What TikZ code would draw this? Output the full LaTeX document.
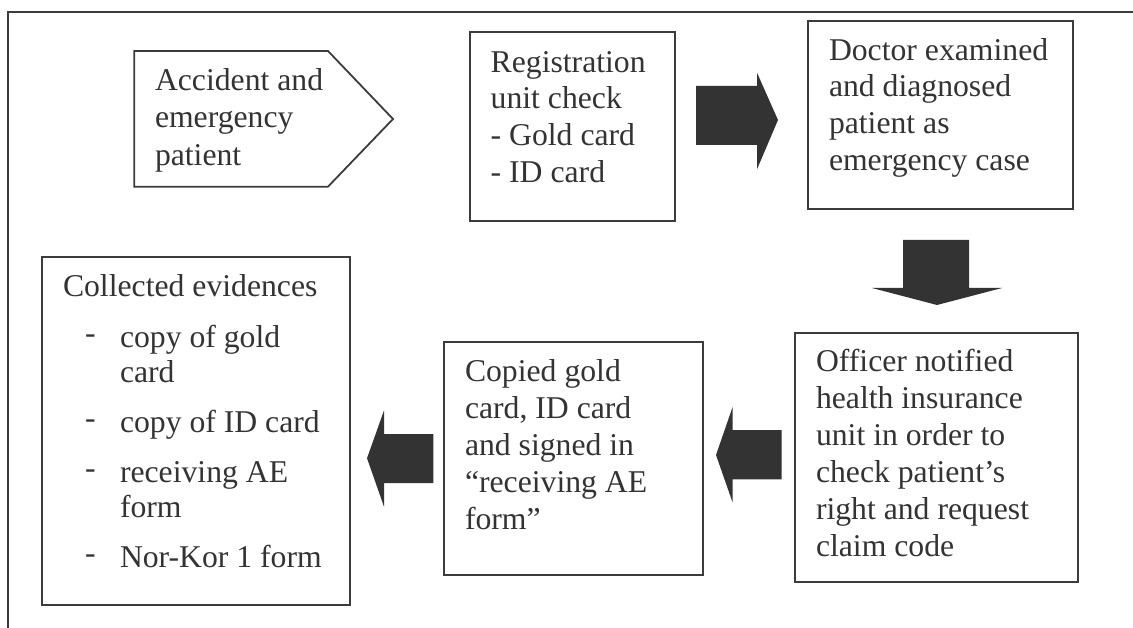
\documentclass[tikz,border=0pt]{standalone}
\usepackage{fontspec}
\setmainfont{Liberation Serif}
\definecolor{ink}{RGB}{51,51,51}
\definecolor{edge}{RGB}{60,60,60}
\tikzset{
  box/.style={draw=edge, line width=1.8pt, inner sep=0pt, outer sep=0pt, anchor=north west},
  label/.style={text=ink, align=left, anchor=north west, inner sep=0pt, outer sep=0pt,
    font=\fontsize{31.7}{36.9}\selectfont},
  blockarrow/.style={fill=ink, draw=none},
  frame/.style={draw=edge, line width=1.8pt}
}
\begin{document}
\begin{tikzpicture}[x=1pt,y=-1pt]
\useasboundingbox (0,0) rectangle (1133,628);
% outer frame
\coordinate (fbl) at (7.7,628);
\coordinate (ftl) at (7.7,11.7);
\coordinate (ftr) at (1133,11.7);
\draw[frame] (fbl) -- (ftl) -- (ftr);

% start pentagon
\coordinate (p1) at (134.3,51);
\coordinate (p2) at (328,51);
\coordinate (p3) at (393,119);
\coordinate (p4) at (328,186.7);
\coordinate (p5) at (134.3,186.7);
\draw[draw=edge, line width=1.8pt, line join=miter] (p1) -- (p2) -- (p3) -- (p4) -- (p5) -- cycle;
\node[label, font=\fontsize{31.7}{37.5}\selectfont] (acc) at (155,64.2) {\strut Accident and\\emergency\\patient};

% boxes
\node[box, minimum width=205pt, minimum height=189pt] (reg) at (470,31.7) {};
\node[label] (regt) at (490.7,46.2) {\strut Registration\\unit check\\- Gold card\\- ID card};

\node[box, minimum width=265pt, minimum height=188.3pt] (doc) at (808,20.7) {};
\node[label] (doct) at (829,34.2) {\strut Doctor examined\\and diagnosed\\patient as\\emergency case};

\node[box, minimum width=283pt, minimum height=249pt] (off) at (795,333) {};
\node[label] (offt) at (816,345.9) {\strut Officer notified\\health insurance\\unit in order to\\check patient’s\\right and request\\claim code};

\node[box, minimum width=259pt, minimum height=233pt] (cop) at (444,342) {};
\node[label] (copt) at (465,355.9) {\strut Copied gold\\card, ID card\\and signed in\\“receiving AE\\form”};

\node[box, minimum width=308.3pt, minimum height=347.7pt] (col) at (41.7,257.3) {};
\node[label, font=\fontsize{31.7}{35}\selectfont] (colt) at (63,272.2) {\strut Collected evidences\\[16pt]
\hspace*{22pt}\makebox[35pt][l]{\raisebox{4pt}{-}}copy of gold\\
\hspace*{57pt}card\\[15pt]
\hspace*{22pt}\makebox[35pt][l]{\raisebox{4pt}{-}}copy of ID card\\[15pt]
\hspace*{22pt}\makebox[35pt][l]{\raisebox{4pt}{-}}receiving AE\\
\hspace*{57pt}form\\[15pt]
\hspace*{22pt}\makebox[35pt][l]{\raisebox{4pt}{-}}Nor-Kor 1 form};

% block arrows
\fill[blockarrow] (696,86) -- (757,86) -- (757,72.7) -- (778,120) -- (757,169.3) -- (757,145) -- (696,145) -- cycle;
\fill[blockarrow] (903,240) -- (969,240) -- (969,288) -- (1002,288) -- (937,305) -- (872,288) -- (903,288) -- cycle;
\fill[blockarrow] (781.7,430) -- (732.7,430) -- (732.7,406.7) -- (716,455) -- (732.7,502.7) -- (732.7,479.3) -- (781.7,479.3) -- cycle;
\fill[blockarrow] (433.3,434) -- (384,434) -- (384,410.5) -- (367,458.2) -- (384,506.7) -- (384,483.2) -- (433.3,483.2) -- cycle;
\end{tikzpicture}
\end{document}
